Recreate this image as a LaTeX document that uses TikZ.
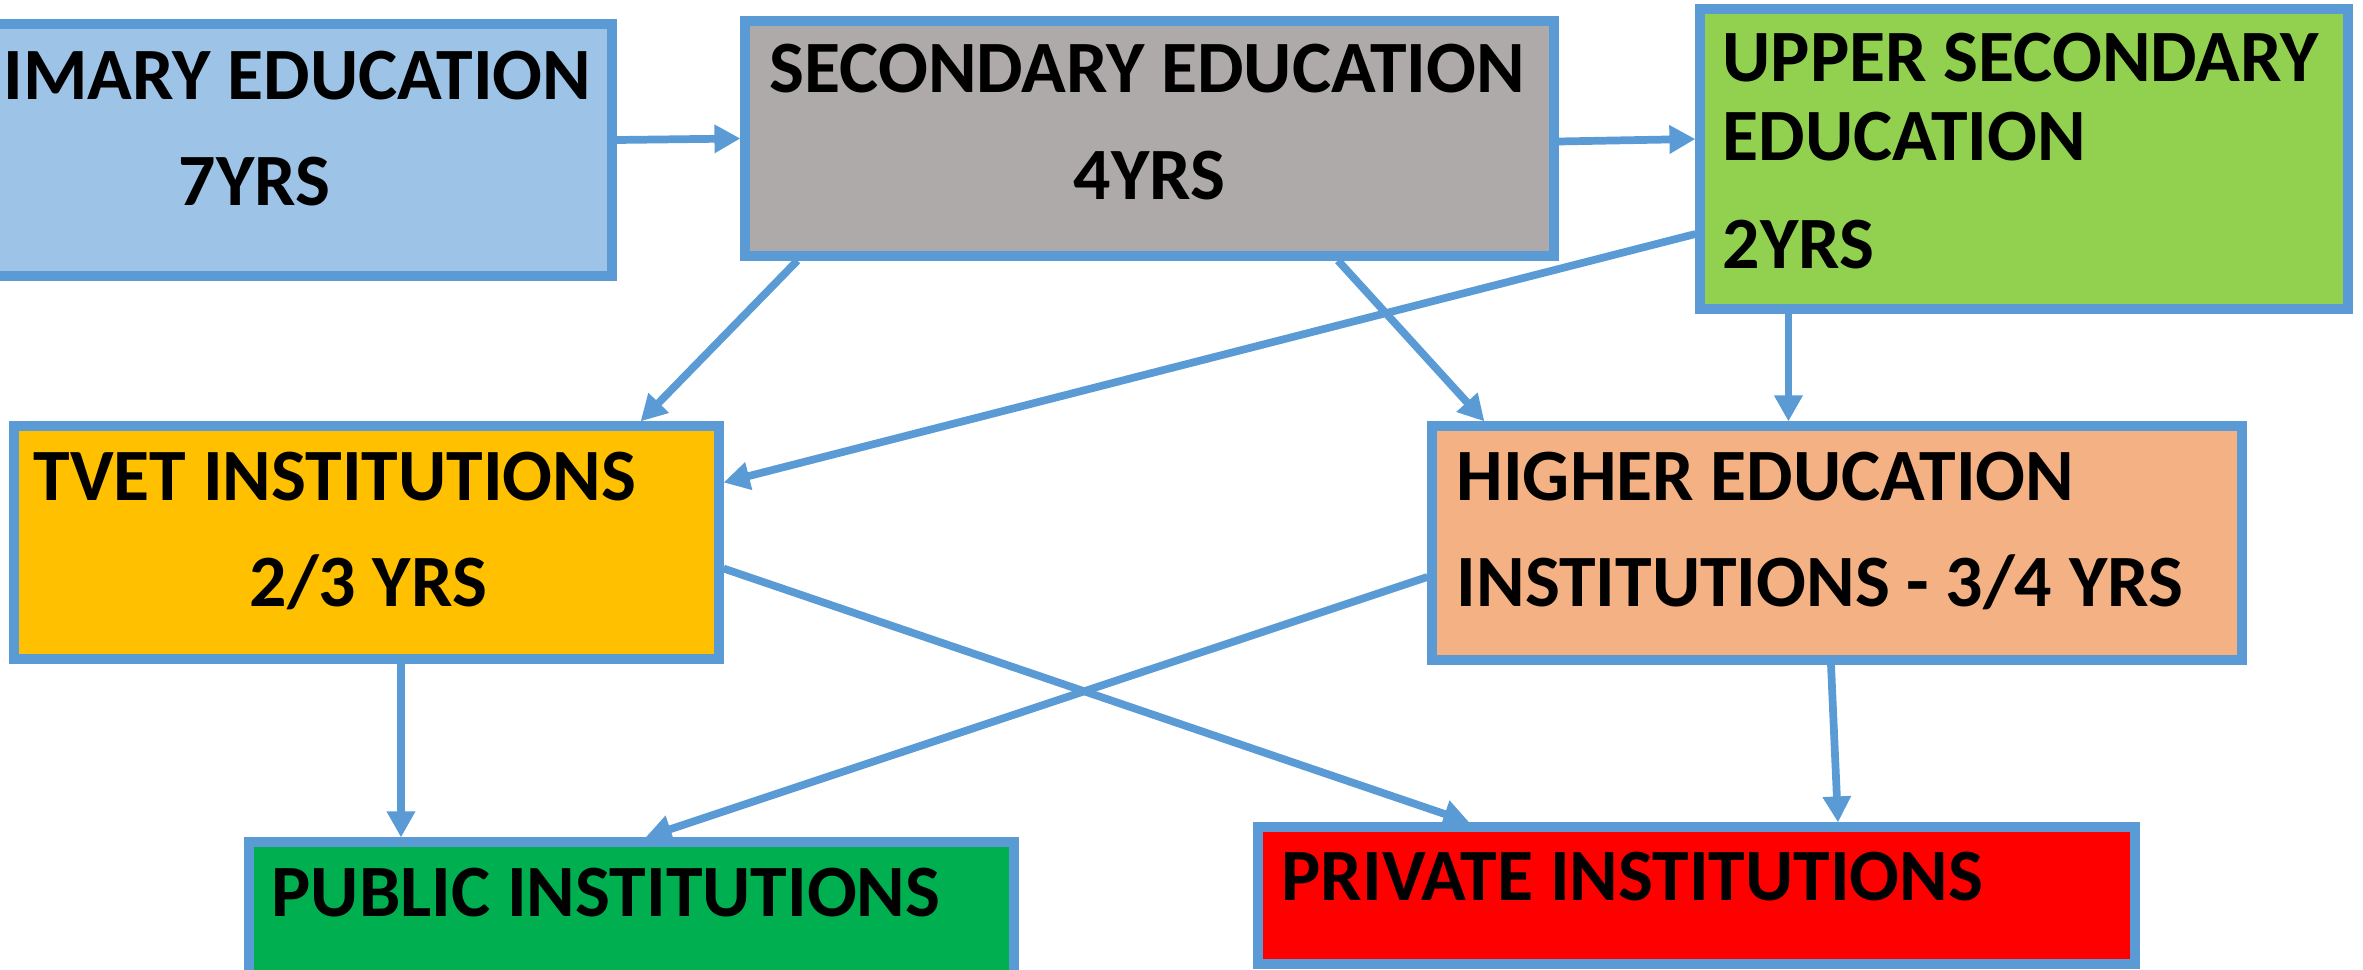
\documentclass[tikz,border=0pt]{standalone}
\usepackage{fontspec}
\setmainfont{Carlito}
\usetikzlibrary{positioning,calc,arrows.meta}
\definecolor{edgeblue}{HTML}{5B9BD5}
\definecolor{primfill}{HTML}{9DC3E6}
\definecolor{secfill}{HTML}{AEAAAA}
\definecolor{upfill}{HTML}{92D050}
\definecolor{tvetfill}{HTML}{FFC000}
\definecolor{highfill}{HTML}{F4B183}
\definecolor{pubfill}{HTML}{00B050}
\definecolor{privfill}{HTML}{FF0000}
\tikzset{>={Triangle[length=0.26cm,width=0.27cm]}}
\tikzset{
  box/.style={draw=edgeblue,line width=2.6pt,rectangle,inner sep=0pt},
  txt/.style={anchor=base west,inner sep=0pt,font=\fontsize{21}{24}\selectfont\bfseries},
  arr/.style={->,draw=edgeblue,line width=2.2pt}
}

\begin{document}
\begin{tikzpicture}
\useasboundingbox (0,0) rectangle (23.63,-9.70);
% boxes
\node[box,fill=primfill,minimum width=6.62cm,minimum height=2.52cm] (prim) at (2.81,-1.50) {};
\node[box,fill=secfill,minimum width=8.09cm,minimum height=2.35cm] (sec) at (11.495,-1.385) {};
\node[box,fill=upfill,minimum width=6.48cm,minimum height=3.00cm] (upsec) at (20.24,-1.59) {};
\node[box,fill=tvetfill,minimum width=7.05cm,minimum height=2.33cm] (tvet) at (3.665,-5.425) {};
\node[box,fill=highfill,minimum width=8.10cm,minimum height=2.34cm] (higher) at (18.37,-5.43) {};
\node[box,fill=pubfill,minimum width=7.65cm,minimum height=1.58cm] (public) at (6.315,-9.21) {};
\node[box,fill=privfill,minimum width=8.77cm,minimum height=1.37cm] (private) at (16.965,-8.955) {};
% texts
\node[txt] (primA) at (0.03,-0.995) {IMARY EDUCATION};
\node[txt] (primB) at (1.78,-2.05) {7YRS};
\node[txt] (secA) at (7.69,-0.93) {SECONDARY EDUCATION};
\node[txt] (secB) at (10.73,-1.99) {4YRS};
\node[txt] (upA) at (17.22,-0.81) {UPPER SECONDARY};
\node[txt] (upB) at (17.22,-1.60) {EDUCATION};
\node[txt] (upC) at (17.22,-2.68) {2YRS};
\node[txt] (tvetA) at (0.33,-5.00) {TVET INSTITUTIONS};
\node[txt] (tvetB) at (2.49,-6.06) {2/3 YRS};
\node[txt] (highA) at (14.56,-5.00) {HIGHER EDUCATION};
\node[txt] (highB) at (14.56,-6.06) {INSTITUTIONS - 3/4 YRS};
\node[txt] (pubA) at (2.71,-9.16) {PUBLIC INSTITUTIONS};
\node[txt] (privA) at (12.81,-9.00) {PRIVATE INSTITUTIONS};
% connectors
\draw[arr] ([yshift=0.1cm]prim.east) -- (sec.west);
\draw[arr] ([yshift=-0.03cm]sec.east) -- ([yshift=0.2cm]upsec.west);
\draw[arr] ([xshift=0.57cm]sec.south west) -- ([xshift=-0.83cm]tvet.north east);
\draw[arr] ([xshift=1.885cm]sec.south) -- ([xshift=0.57cm]higher.north west);
\draw[arr] ([yshift=-0.75cm]upsec.west) -- ([yshift=0.6cm]tvet.east);
\draw[arr] ([xshift=0.93cm]upsec.south west) -- ([xshift=0.93cm]upsec.south west |- higher.north);
\draw[arr] ([yshift=-0.26cm]tvet.east) -- ([xshift=2.16cm]private.north west);
\draw[arr] ([yshift=-0.34cm]higher.west) -- ([xshift=0.14cm]public.north);
\draw[arr] ([xshift=0.345cm]tvet.south) -- ([xshift=0.345cm]tvet.south |- public.north);
\draw[arr] ([xshift=-0.06cm]higher.south) -- ([xshift=1.415cm]private.north);
\end{tikzpicture}
\end{document}
